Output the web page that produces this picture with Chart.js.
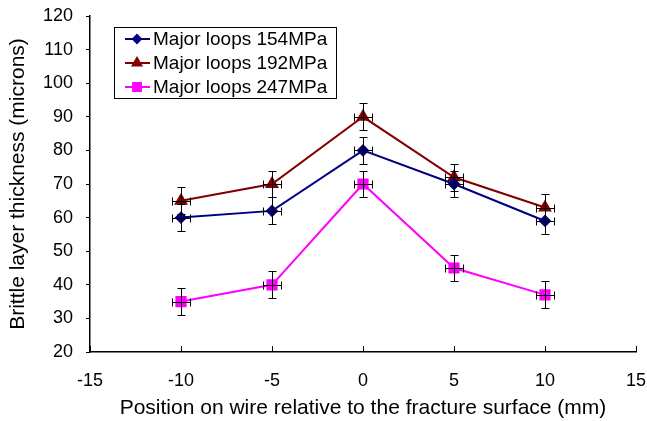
<!DOCTYPE html>
<html>
<head>
<meta charset="utf-8">
<script src="https://cdn.jsdelivr.net/npm/chart.js@4"></script>
<style>
  html, body { margin: 0; padding: 0; background: #fff; }
  #wrap { width: 647px; height: 421px; }
</style>
</head>
<body>
<div id="wrap"><canvas id="chart" width="647" height="421"></canvas></div>
<script>
// positions along the wire (mm)
const positions = [-10, -5, 0, 5, 10];
const loops154 = [60, 62, 80, 70, 59];
const loops192 = [65, 70, 90, 72, 63];
const loops247 = [35, 40, 70, 45, 37];
const yErr = 4;      // microns
const xErr = 0.52;   // mm
const seriesLabels = ['Major loops 154MPa', 'Major loops 192MPa', 'Major loops 247MPa'];
const xTicks = [-15, -10, -5, 0, 5, 10, 15];

const FONT = 'Arial, "Liberation Sans", sans-serif';

function toPoints(vals) {
    return positions.map((x, i) => ({ x: x, y: vals[i] }));
}

// error bars + inside x ticks
const errorBars = {
    id: 'errorBars',
    afterDatasetsDraw(chart) {
        const ctx = chart.ctx;
        const xs = chart.scales.x, ys = chart.scales.y;
        ctx.save();
        ctx.strokeStyle = '#000';
        ctx.lineWidth = 1;
        chart.data.datasets.forEach((ds) => {
            ds.data.forEach((p) => {
                const px = Math.round(xs.getPixelForValue(p.x)) + 0.5;
                const py = Math.round(ys.getPixelForValue(p.y)) + 0.5;
                const top = Math.round(ys.getPixelForValue(p.y + yErr)) + 0.5;
                const bot = Math.round(ys.getPixelForValue(p.y - yErr)) + 0.5;
                const l = Math.round(xs.getPixelForValue(p.x - xErr)) + 0.5;
                const r = Math.round(xs.getPixelForValue(p.x + xErr)) + 0.5;
                ctx.beginPath();
                ctx.moveTo(px, top); ctx.lineTo(px, bot);
                ctx.moveTo(px - 4, top); ctx.lineTo(px + 4, top);
                ctx.moveTo(px - 4, bot); ctx.lineTo(px + 4, bot);
                ctx.moveTo(l, py); ctx.lineTo(r, py);
                ctx.moveTo(l, py - 4); ctx.lineTo(l, py + 4);
                ctx.moveTo(r, py - 4); ctx.lineTo(r, py + 4);
                ctx.stroke();
            });
        });
        // x tick marks pointing inwards
        const b = chart.chartArea.bottom;
        ctx.beginPath();
        xTicks.forEach((t) => {
            const px = Math.round(xs.getPixelForValue(t)) + 0.5;
            ctx.moveTo(px, b); ctx.lineTo(px, b - 6);
        });
        ctx.stroke();
        ctx.restore();
    }
};

// boxed legend inside the plot
const boxLegend = {
    id: 'boxLegend',
    afterDraw(chart) {
        const ctx = chart.ctx;
        const x0 = 114, y0 = 27, w = 222, h = 71;
        ctx.save();
        ctx.fillStyle = '#fff';
        ctx.fillRect(x0, y0, w, h);
        ctx.strokeStyle = '#000';
        ctx.lineWidth = 1;
        ctx.strokeRect(x0 + 0.5, y0 + 0.5, w, h);
        ctx.font = '19px ' + FONT;
        ctx.textBaseline = 'middle';
        chart.data.datasets.forEach((ds, i) => {
            const cy = y0 + 12 + i * 24;
            ctx.strokeStyle = ds.borderColor;
            ctx.lineWidth = 2;
            ctx.beginPath();
            ctx.moveTo(x0 + 11, cy); ctx.lineTo(x0 + 36, cy);
            ctx.stroke();
            Chart.helpers.drawPoint(ctx, {
                pointStyle: ds.pointStyle, radius: ds.pointRadius - 1, rotation: 0, borderWidth: 1
            }, x0 + 23, cy);
            ctx.fillStyle = ds.borderColor;
            ctx.fill();
            ctx.fillStyle = '#000';
            ctx.fillText(ds.label, x0 + 39, cy + 1);
        });
        ctx.restore();
    }
};

function makeSet(label, vals, color, style, radius) {
    return {
        label: label,
        data: toPoints(vals),
        borderColor: color,
        backgroundColor: color,
        pointBackgroundColor: color,
        pointBorderColor: color,
        pointStyle: style,
        pointRadius: radius,
        borderWidth: 2,
        tension: 0
    };
}

new Chart(document.getElementById('chart'), {
    type: 'line',
    data: {
        datasets: [
            makeSet(seriesLabels[0], loops154, '#000080', 'rectRot', 5),
            makeSet(seriesLabels[1], loops192, '#800000', 'triangle', 6),
            makeSet(seriesLabels[2], loops247, '#FF00FF', 'rect', 6.5)
        ]
    },
    options: {
        responsive: false,
        animation: false,
        layout: { padding: { top: 16, right: 11, left: 0, bottom: 0 } },
        plugins: { legend: { display: false }, tooltip: { enabled: false } },
        scales: {
            x: {
                type: 'linear',
                min: -15, max: 15,
                afterFit: (s) => { s.height = 69; s.paddingLeft = 0; s.paddingRight = 0; },
                afterBuildTicks: (s) => { s.ticks = xTicks.map((v) => ({ value: v })); },
                grid: { display: false, drawTicks: false },
                border: { color: '#000', width: 1.5 },
                ticks: { color: '#000', font: { family: FONT, size: 18 }, padding: 18, maxRotation: 0 },
                title: {
                    display: true,
                    text: 'Position on wire relative to the fracture surface (mm)',
                    color: '#000',
                    font: { family: FONT, size: 21 },
                    padding: { top: 6, bottom: 0 }
                }
            },
            y: {
                min: 20, max: 120,
                afterFit: (s) => { s.width = 90; s.paddingTop = 0; s.paddingBottom = 0; },
                ticks: { stepSize: 10, color: '#000', font: { family: FONT, size: 18 }, padding: 13 },
                grid: { drawOnChartArea: false, tickLength: 4, color: '#000' },
                border: { color: '#000', width: 1.5 },
                title: {
                    display: true,
                    text: 'Brittle layer thickness (microns)',
                    color: '#000',
                    font: { family: FONT, size: 21 },
                    padding: { top: 6, bottom: 4 }
                }
            }
        }
    },
    plugins: [errorBars, boxLegend]
});
</script>
</body>
</html>
